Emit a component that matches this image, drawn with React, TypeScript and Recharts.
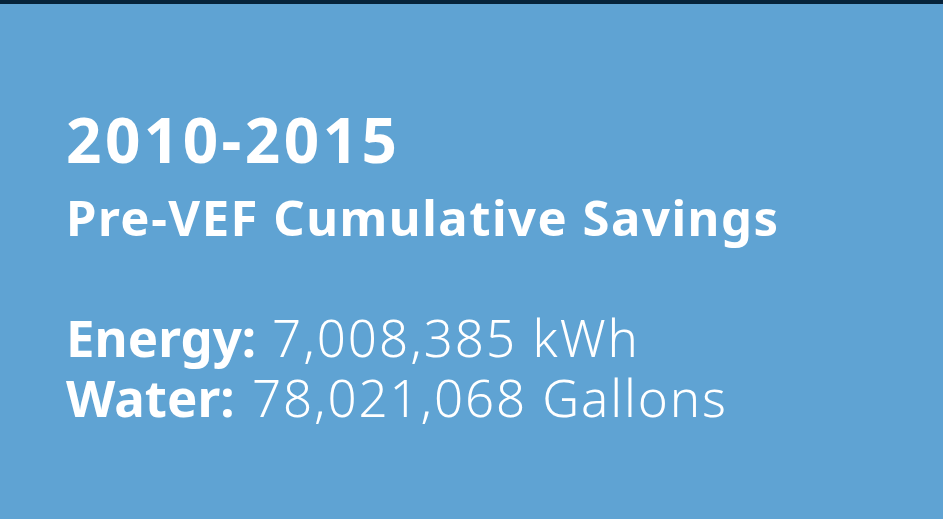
import { Surface, Rectangle } from 'recharts'

const W = 943
const H = 519

// card content
const period = '2010-2015'
const subtitle = 'Pre-VEF Cumulative Savings'
const metricLabels = ['Energy:', 'Water:']
const metricValues = [7008385, 78021068]
const metricUnits = ['kWh', 'Gallons']

// text layout (the reference uses a wider font, so widths are pinned)
const valueX = [272, 252]
const valueWidth = [366, 474]

const fmt = (n: number) => n.toLocaleString('en-US')

export default function App() {
  const font = '"Noto Sans", "Open Sans", sans-serif'
  return (
    <div style={{ position: 'absolute', left: 0, top: 0, width: W, height: H }}>
      <Surface width={W} height={H}>
        <Rectangle x={0} y={0} width={W} height={H} fill="#5fa3d3" />
        <Rectangle x={0} y={0} width={W} height={4} fill="#06233a" />
        <text x={66} y={163} fill="#fff" fontFamily={font} fontWeight={700} fontSize={62}
          textLength={331} lengthAdjust="spacing">
          {period}
        </text>
        <text x={66} y={236} fill="#fff" fontFamily={font} fontWeight={700} fontSize={49}
          textLength={712} lengthAdjust="spacing">
          {subtitle}
        </text>
        {metricLabels.map((label, i) => (
          <g key={label}>
            <text x={66} y={357 + i * 60} fill="#fff" fontFamily={font} fontSize={51} fontWeight={700}>
              {label}
            </text>
            <text x={valueX[i]} y={357 + i * 60} fill="#fff" fontFamily={font} fontSize={51} fontWeight={300}
              textLength={valueWidth[i]} lengthAdjust="spacing">
              {fmt(metricValues[i]) + ' ' + metricUnits[i]}
            </text>
          </g>
        ))}
      </Surface>
    </div>
  )
}
